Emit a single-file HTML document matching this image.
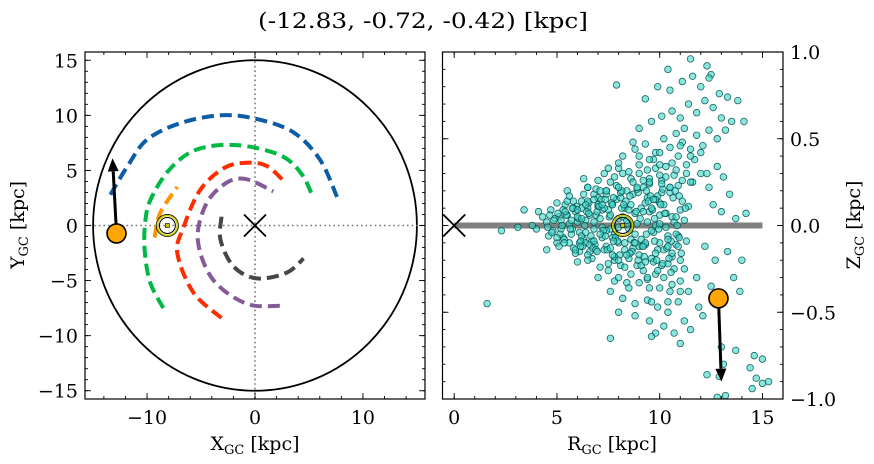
<!DOCTYPE html>
<html><head><meta charset="utf-8"><style>
body{margin:0;background:#fff}
svg{display:block;font-family:"DejaVu Serif","Liberation Serif",serif}
</style></head><body>
<svg id="fig" width="874" height="464" viewBox="0 0 874 464">
<text x="423" y="28" font-size="21" text-anchor="middle" textLength="330" lengthAdjust="spacingAndGlyphs">(-12.83, -0.72, -0.42) [kpc]</text>
<g id="left"></g>
<g id="right"></g>
</svg>
<script>
const NS="http://www.w3.org/2000/svg";
function mk(p,t,a){const e=document.createElementNS(NS,t);for(const k in a)e.setAttribute(k,a[k]);p.appendChild(e);return e;}

// ---- data: left panel (X,Y kpc) ----
const starXY=[-12.83,-0.72];
const arrowXY=[-13.2,6.1];
const sunXY=[-8.12,0];
const circleR=15;
const arcBlue=[[-13.4,2.8],[-11.8,5.4],[-10.0,7.8],[-6.9,9.3],[-3.2,10.0],[0,9.7],[3.5,8.5],[6.0,6.0],[7.6,2.6]];
const arcGreen=[[-8.5,-7.5],[-9.7,-5.2],[-10.2,-2.5],[-10.2,0],[-9.7,2.3],[-7.9,5.1],[-5.4,6.9],[-1.7,7.3],[2.3,6.4],[4.3,4.7],[5.4,2.5]];
const arcOrange=[[-9.3,-1.1],[-8.8,1.1],[-7.2,3.5]];
const arcRed=[[-3.1,-8.4],[-5.7,-6.1],[-7.2,-2.5],[-6.6,-0.1],[-5.1,3.2],[-2.9,5.2],[-0.8,5.7],[1.1,5.4],[2.8,3.9]];
const arcPurple=[[2.3,-7.3],[-0.8,-7.1],[-3.9,-4.9],[-5.3,-1.3],[-4.5,2.0],[-2.6,3.9],[-0.8,4.2],[1.7,3.1]];
const arcGray=[[-3.1,0.8],[-3.2,-1.3],[-2.0,-3.7],[0.15,-4.8],[2.9,-4.3],[4.5,-3.0]];
const xTicksL=[-10,0,10];
const yTicksL=[-15,-10,-5,0,5,10,15];

// ---- data: right panel (R,Z kpc) ----
const starRZ=[12.86,-0.42];
const arrowRZ=[13.0,-0.9];
const sunRZ=[8.2,0];
const diskR=[0,15];
const starsR=[4.5,4.8,5.1,5.3,5.6,5.9,6.1,6.4,6.7,6.9,7.2,7.5,7.8,8.0,8.5,8.8,9.1,9.4,9.7,10.0,10.3,10.6,10.9,11.2,
4.7,5.0,5.4,5.8,6.2,6.6,7.0,7.4,7.9,8.3,8.7,9.0,9.3,9.6,9.9,10.2,10.5,10.8,11.1,
5.5,6.0,6.5,7.1,7.6,8.1,8.6,9.2,9.5,9.8,10.1,10.4,10.7,11.0,
6.3,7.3,7.0,8.0,8.4,9.0,9.4,9.7,10.0,10.3,10.6,10.9,11.3,
8.2,8.8,9.3,9.8,10.2,10.5,10.8,11.1,11.5,11.8,12.1,12.4,
7.6,8.2,8.8,9.4,9.9,10.4,10.9,11.4,11.8,
9.0,9.6,10.1,10.6,11.0,11.4,11.8,12.2,12.6,13.0,13.2,12.8,13.5,
9.3,9.9,10.5,11.1,11.6,12.0,12.5,12.9,13.3,
7.9,10.4,11.5,12.3,12.4,13.8,14.1,
11.6,12.0,12.4,12.8,13.1,12.6,13.0,13.4,13.7,14.2,12.2,12.7,13.3,13.6,12.5,13.0,13.9,14.0,11.9,12.1,11.2,11.5,
9.5,10.2,10.7,11.0,9.8,8.8,8.0,
13.0,13.1,13.7,14.4,14.6,14.7,15.0,15.3,14.5,15.0,12.8,13.2,12.3,12.9,
1.6,2.3,3.1,3.4,4.0,4.3,4.5,4.1,3.8,7.6,9.6,6.5,6.8,
4.6,4.9,5.2,5.5,5.7,6.0,6.3,6.5,6.8,7.1,7.3,7.6,7.7,8.0,8.3,8.6,8.9,9.1,9.3,9.5,9.8,10.0,10.2,10.4,10.7,11.0,11.3,
5.8,6.1,6.9,7.4,7.8,8.4,8.9,9.2,9.7,10.1,10.6,10.9,11.2,7.2,8.1,8.7,9.4,9.9,10.3,6.4,5.0,
5.2,6.2,7.0,7.7,8.5,9.3,10.0,10.8,6.6,7.4,8.2,9.0,9.8,10.6,11.4,12.0,11.7,12.3,
4.55,4.85,5.15,5.45,5.75,6.05,6.35,6.65,6.95,7.25,7.55,7.85,8.15,8.45,8.75,9.05,9.35,9.65,9.95,10.25,10.55,10.85,
4.65,5.0,5.3,5.6,5.95,6.25,6.55,6.85,7.15,7.45,7.75,8.05,8.35,8.65,8.95,9.25,9.55,9.85,10.15,10.45,10.75,11.05,
5.1,5.5,5.9,6.3,6.7,7.1,7.5,7.9,8.3,8.7,9.1,9.5,9.9,10.3,10.7,11.1,
5.25,5.65,6.0,6.4,6.8,7.2,7.6,8.0,8.4,8.8,9.2,9.6,10.0,10.4,10.8,
6.2,6.6,7.0,7.4,7.8,8.2,8.6,9.0,9.4,9.8,10.2,10.6,11.0,11.3,
7.5,8.0,8.5,9.0,9.5,10.0,10.5,11.0,11.5,7.8,8.7,9.6,10.4,11.2,
4.75,5.05,5.35,5.7,6.1,6.45,6.75,7.05,7.35,7.65,7.95,8.25,8.55,8.85,9.15,9.45,9.75,10.05,10.35,10.65,10.95,11.25,
5.4,5.8,6.15,6.5,6.9,7.3,7.7,8.1,8.5,8.9,9.3,9.7,10.1,10.5,10.9,
5.6,5.9,6.2,6.5,6.8,7.1,7.4,7.7,8.0,8.3,8.6,8.9,9.2,9.5,9.8,10.1,
5.35,5.75,6.15,6.55,6.95,7.35,7.75,8.15,8.55,8.95,9.35,9.75,10.15,10.55,10.95,
6.0,6.4,6.8,7.2,7.6,8.0,8.4,8.8,9.2,9.6,10.0,10.4,
7.0,7.5,8.0,8.5,9.0,9.5,10.0,10.5,11.0,11.5,6.5,7.8,9.4,10.8];
const starsZ=[0.02,-0.03,0.05,-0.07,0.01,0.08,-0.04,0.03,-0.09,0.06,-0.01,0.09,-0.05,0.04,-0.02,0.07,-0.08,0.02,-0.04,0.06,-0.01,0.05,-0.06,0.03,
0.09,-0.1,0.12,-0.13,0.14,-0.15,0.16,-0.12,0.15,-0.14,0.18,-0.17,0.13,-0.19,0.17,-0.14,0.19,-0.11,0.14,
0.2,-0.21,0.22,-0.24,0.25,-0.23,0.27,-0.26,0.24,-0.28,0.26,-0.22,0.29,-0.2,
0.27,0.3,-0.3,0.33,-0.33,0.35,-0.31,0.38,-0.36,0.34,-0.34,0.4,0.35,
0.4,0.44,0.47,0.42,0.5,0.45,0.53,0.48,0.44,0.52,0.46,0.55,
-0.38,-0.42,-0.45,-0.43,-0.47,-0.5,-0.44,-0.38,-0.3,
0.56,0.6,0.63,0.66,0.62,0.7,0.65,0.72,0.68,0.62,0.55,0.5,0.6,
0.73,0.8,0.78,0.83,0.86,0.8,0.87,0.76,0.74,
0.81,0.9,0.96,0.92,0.85,0.72,0.6,
0.25,0.3,0.22,0.34,0.28,0.12,0.08,0.18,0.04,0.07,-0.12,-0.2,-0.15,-0.3,-0.35,-0.45,-0.38,-0.2,-0.47,-0.52,-0.55,-0.6,
-0.55,-0.58,-0.62,-0.68,-0.62,-0.52,-0.5,
-0.7,-0.8,-0.72,-0.82,-0.75,-0.88,-0.77,-0.9,-0.94,-0.91,-0.99,-0.98,-0.86,-0.87,
-0.45,-0.03,-0.01,0.09,-0.02,0.05,-0.14,0.08,0.0,-0.65,-0.64,0.22,0.18,
-0.06,0.04,-0.02,0.06,-0.05,0.02,-0.08,0.1,-0.02,0.04,-0.14,-0.02,0.12,-0.1,0.1,-0.08,0.01,0.1,-0.11,0.08,0.0,-0.1,0.12,-0.06,0.02,0.09,-0.09,
0.14,-0.15,0.21,0.18,-0.2,0.2,-0.23,0.22,-0.21,0.19,-0.18,0.23,-0.25,0.09,0.16,-0.13,0.16,-0.14,0.07,-0.1,0.13,
0.03,-0.06,0.11,-0.07,0.09,-0.1,0.13,-0.05,0.06,-0.03,0.05,-0.12,0.15,-0.16,0.11,0.42,0.38,0.3,
-0.01,0.03,-0.05,0.06,-0.02,0.04,0.0,-0.06,0.08,-0.03,0.05,-0.07,0.1,0.01,-0.1,0.04,-0.05,0.09,-0.02,0.07,-0.09,0.0,
0.06,-0.07,0.09,-0.1,0.11,-0.12,0.13,-0.11,0.15,-0.14,0.16,-0.17,0.14,-0.15,0.19,-0.18,0.17,-0.2,0.21,-0.19,0.2,-0.16,
-0.12,0.14,-0.16,0.18,-0.19,0.2,-0.22,0.23,-0.24,0.25,-0.23,0.27,-0.26,0.28,-0.25,0.26,
0.0,-0.02,0.05,-0.04,0.02,-0.07,0.06,-0.01,0.03,-0.05,0.08,-0.03,0.01,-0.08,0.05,
0.1,-0.11,0.12,0.2,-0.18,0.3,-0.28,0.3,-0.3,0.33,-0.3,0.36,-0.32,0.3,
0.33,0.36,-0.36,0.4,0.38,0.42,-0.38,0.46,0.4,-0.32,0.48,-0.44,-0.44,0.56,
-0.04,0.07,-0.08,0.03,-0.1,0.08,-0.13,0.11,-0.06,0.13,-0.09,0.12,-0.16,0.08,-0.12,0.14,-0.09,0.12,-0.13,0.16,-0.07,0.1,
0.08,0.1,-0.09,0.14,-0.14,0.1,-0.17,0.19,-0.19,0.21,-0.21,0.15,-0.23,0.22,-0.12,
0.17,-0.14,0.04,-0.17,0.15,-0.05,0.2,0.12,-0.2,-0.1,0.12,0.22,-0.12,0.25,-0.16,0.24,
-0.1,0.1,-0.12,0.07,-0.15,0.15,-0.09,0.2,0.17,-0.2,0.2,0.04,-0.22,-0.27,0.17,
0.09,0.12,-0.09,0.12,-0.13,0.22,-0.17,-0.1,0.26,0.1,0.29,-0.12,
0.26,-0.26,-0.3,0.31,-0.33,-0.36,0.35,0.22,-0.38,0.25,-0.2,0.28,0.32,0.32];
const xTicksR=[0,5,10,15];
const yTicksR=[-1.0,-0.5,0.0,0.5,1.0];
const yTickLabR=["\u22121.0","\u22120.5","0.0","0.5","1.0"];

// ---- left axes ----
const L={x0:85,x1:425,y0:52,y1:399,xmin:-15.75,xmax:15.75,ymin:-15.75,ymax:15.75};
const lx=v=>L.x0+(v-L.xmin)/(L.xmax-L.xmin)*(L.x1-L.x0);
const ly=v=>L.y1-(v-L.ymin)/(L.ymax-L.ymin)*(L.y1-L.y0);
const gl=document.getElementById('left');
const cl=mk(gl,'ellipse',{cx:lx(0),cy:ly(0),rx:lx(circleR)-lx(0),ry:ly(0)-ly(circleR),fill:'none',stroke:'#000','stroke-width':1.8});

const d1=mk(gl,'line',{x1:lx(0),y1:L.y0,x2:lx(0),y2:L.y1,stroke:'#777','stroke-width':1.6,'stroke-dasharray':'1.6,3'});

const d2=mk(gl,'line',{x1:L.x0,y1:ly(0),x2:L.x1,y2:ly(0),stroke:'#777','stroke-width':1.6,'stroke-dasharray':'1.6,3'});

function arc(pts,col,name){
  const P=pts.map(p=>[lx(p[0]),ly(p[1])]);
  let s='M'+P[0][0].toFixed(1)+','+P[0][1].toFixed(1);
  for(let i=0;i<P.length-1;i++){
    const p0=P[Math.max(0,i-1)],p1=P[i],p2=P[i+1],p3=P[Math.min(P.length-1,i+2)];
    const c1=[p1[0]+(p2[0]-p0[0])/6,p1[1]+(p2[1]-p0[1])/6],c2=[p2[0]-(p3[0]-p1[0])/6,p2[1]-(p3[1]-p1[1])/6];
    s+=`C${c1[0].toFixed(1)},${c1[1].toFixed(1)} ${c2[0].toFixed(1)},${c2[1].toFixed(1)} ${p2[0].toFixed(1)},${p2[1].toFixed(1)}`;
  }
  const e=mk(gl,'path',{d:s,fill:'none',stroke:col,'stroke-width':4,'stroke-dasharray':'12,6'});
  
  
}
arc(arcBlue,'#0c5da5','spiral-arm-blue');
arc(arcGreen,'#00b945','spiral-arm-green');
arc(arcOrange,'#ff9500','spiral-arm-orange');
arc(arcRed,'#ff2c00','spiral-arm-red');
arc(arcPurple,'#845b97','spiral-arm-purple');
arc(arcGray,'#474747','spiral-arm-gray');
function cross(g,cx,cy,name){const e=mk(g,'path',{d:`M${cx-11},${cy-11}L${cx+11},${cy+11}M${cx-11},${cy+11}L${cx+11},${cy-11}`,stroke:'#000','stroke-width':1.8});
}
cross(gl,lx(0),ly(0),'galactic-center-marker');
function sun(g,cx,cy,name){const s=mk(g,'g',{});
mk(s,'circle',{cx,cy,r:11,fill:'none',stroke:'#000','stroke-width':1});
mk(s,'circle',{cx,cy,r:10,fill:'none',stroke:'#c8c800','stroke-width':1.6});
mk(s,'circle',{cx,cy,r:8,fill:'none',stroke:'#000','stroke-width':1});
mk(s,'rect',{x:cx-2,y:cy-2,width:4,height:4,fill:'#c8c800',stroke:'#000','stroke-width':0.6});
}
sun(gl,lx(sunXY[0]),ly(sunXY[1]),'sun-marker');
function arrow(g,x1,y1,x2,y2,name){const a=mk(g,'g',{});
const ang=Math.atan2(y2-y1,x2-x1),hl=13,hw=5.5;
const bx=x2-hl*Math.cos(ang),by=y2-hl*Math.sin(ang);
mk(a,'line',{x1,y1,x2:bx,y2:by,stroke:'#000','stroke-width':3});
mk(a,'polygon',{points:`${x2},${y2} ${bx-hw*Math.sin(ang)},${by+hw*Math.cos(ang)} ${bx+hw*Math.sin(ang)},${by-hw*Math.cos(ang)}`,fill:'#000'});
}
arrow(gl,lx(starXY[0]),ly(starXY[1]),lx(arrowXY[0]),ly(arrowXY[1]),'velocity-arrow-xy');
const sl=mk(gl,'circle',{cx:lx(starXY[0]),cy:ly(starXY[1]),r:9.5,fill:'#ffa500',stroke:'#000','stroke-width':1.6});


function frame(g,A,name){const r=mk(g,'rect',{x:A.x0,y:A.y0,width:A.x1-A.x0,height:A.y1-A.y0,fill:'none',stroke:'#000','stroke-width':1.2});
}
function ticks(g,A,fx,fy,xs,xm,ys,ym){
  const t=mk(g,'g',{stroke:'#000','stroke-width':0.9});
  
  const xt=(v,l)=>{const x=fx(v);if(x<A.x0-0.5||x>A.x1+0.5)return;mk(t,'line',{x1:x,y1:A.y1,x2:x,y2:A.y1-l});mk(t,'line',{x1:x,y1:A.y0,x2:x,y2:A.y0+l});};
  const yt=(v,l)=>{const y=fy(v);if(y<A.y0-0.5||y>A.y1+0.5)return;mk(t,'line',{x1:A.x0,y1:y,x2:A.x0+l,y2:y});mk(t,'line',{x1:A.x1,y1:y,x2:A.x1-l,y2:y});};
  xm.forEach(v=>xt(v,3));xs.forEach(v=>xt(v,6));ym.forEach(v=>yt(v,3));ys.forEach(v=>yt(v,6));
}
const xmL=[],ymL=[];for(let v=-14;v<=14;v+=2)xmL.push(v);for(let v=-15;v<=15;v+=1)ymL.push(v);
ticks(gl,L,lx,ly,xTicksL,xmL,yTicksL,ymL);
frame(gl,L,'xy-axes-frame');
xTicksL.forEach(v=>{const t=mk(gl,'text',{x:lx(v),y:424,'font-size':19,'text-anchor':'middle'});t.textContent=v<0?'\u2212'+(-v):String(v);
});
yTicksL.forEach(v=>{const t=mk(gl,'text',{x:78,y:ly(v)+7,'font-size':19,'text-anchor':'end'});t.textContent=v<0?'\u2212'+(-v):String(v);
});
const xl=mk(gl,'text',{x:255,y:450,'font-size':19,'text-anchor':'middle'});xl.innerHTML='X<tspan font-size="13" dy="4">GC</tspan><tspan dy="-4"> [kpc]</tspan>';

const yl=mk(gl,'text',{x:0,y:0,'font-size':19,'text-anchor':'middle',transform:'translate(24,225) rotate(-90)'});yl.innerHTML='Y<tspan font-size="13" dy="4">GC</tspan><tspan dy="-4"> [kpc]</tspan>';


// ---- right axes ----
const R={x0:442.5,x1:783,y0:52,y1:399,xmin:-0.57,xmax:16,ymin:-1,ymax:1};
const rx=v=>R.x0+(v-R.xmin)/(R.xmax-R.xmin)*(R.x1-R.x0);
const ry=v=>R.y1-(v-R.ymin)/(R.ymax-R.ymin)*(R.y1-R.y0);
const gr=document.getElementById('right');
const cp=mk(gr,'clipPath',{id:'rclip'});mk(cp,'rect',{x:R.x0,y:R.y0,width:R.x1-R.x0,height:R.y1-R.y0});
const disk=mk(gr,'line',{x1:rx(diskR[0]),y1:ry(0),x2:rx(diskR[1]),y2:ry(0),stroke:'#808080','stroke-width':6});

const sc=mk(gr,'g',{'clip-path':'url(#rclip)'});

for(let i=0;i<starsR.length;i++){
  const c=mk(sc,'circle',{cx:rx(starsR[i]),cy:ry(starsZ[i]),r:3.3,fill:'rgba(60,215,200,0.6)',stroke:'rgba(0,75,75,0.85)','stroke-width':0.8});
  
  
}
cross(gr,rx(0),ry(0),'galactic-center-marker-rz');
sun(gr,rx(sunRZ[0]),ry(sunRZ[1]),'sun-marker-rz');
arrow(gr,rx(starRZ[0]),ry(starRZ[1]),rx(arrowRZ[0]),ry(arrowRZ[1]),'velocity-arrow-rz');
const sr=mk(gr,'circle',{cx:rx(starRZ[0]),cy:ry(starRZ[1]),r:9.5,fill:'#ffa500',stroke:'#000','stroke-width':1.6});

const xmR=[],ymR=[];for(let v=0;v<=16;v++)xmR.push(v);for(let v=-10;v<=10;v++)ymR.push(v/10);
ticks(gr,R,rx,ry,xTicksR,xmR,yTicksR,ymR);
frame(gr,R,'rz-axes-frame');
xTicksR.forEach(v=>{const t=mk(gr,'text',{x:rx(v),y:424,'font-size':19,'text-anchor':'middle'});t.textContent=String(v);
});
yTicksR.forEach((v,i)=>{const t=mk(gr,'text',{x:790,y:ry(v)+7,'font-size':19,'text-anchor':'start'});t.textContent=yTickLabR[i];
});
const rl=mk(gr,'text',{x:612,y:450,'font-size':19,'text-anchor':'middle'});rl.innerHTML='R<tspan font-size="13" dy="4">GC</tspan><tspan dy="-4"> [kpc]</tspan>';

const zl=mk(gr,'text',{x:0,y:0,'font-size':19,'text-anchor':'middle',transform:'translate(860,225) rotate(-90)'});zl.innerHTML='Z<tspan font-size="13" dy="4">GC</tspan><tspan dy="-4"> [kpc]</tspan>';

</script>
</body></html>
